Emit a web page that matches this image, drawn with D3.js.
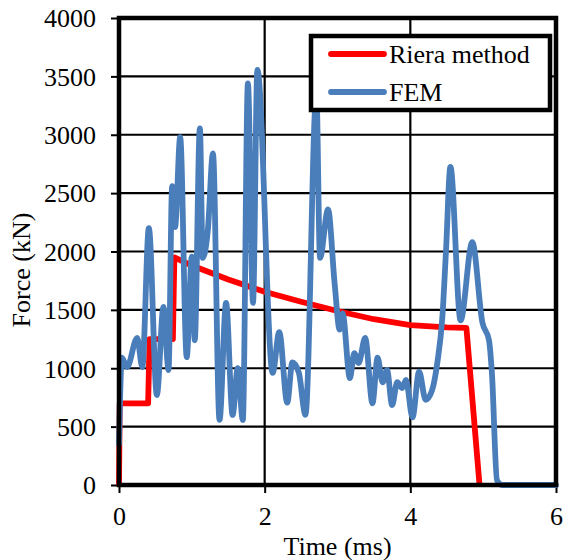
<!DOCTYPE html>
<html>
<head>
<meta charset="utf-8">
<script src="https://cdnjs.cloudflare.com/ajax/libs/d3/7.8.5/d3.min.js"></script>
<style>
  body { margin: 0; background: #fff; }
  text { font-family: "Liberation Serif", "Times New Roman", serif; fill: #000; }
</style>
</head>
<body>
<div id="main"></div>
<script>
// time (ms) / force (kN)
const rieraTime  = [0, 0.01, 0.40, 0.42, 0.74, 0.76, 1.0, 1.5, 2.0, 2.5, 3.0, 3.5, 4.0, 4.5, 4.77, 4.95];
const rieraForce = [0, 700, 700, 1250, 1250, 1950, 1880, 1760, 1655, 1570, 1490, 1420, 1370, 1350, 1345, 0];

const femTime  = [0, 0.04, 0.11, 0.25, 0.32, 0.41, 0.52, 0.61, 0.68, 0.73, 0.77, 0.84, 0.93, 1.0, 1.04, 1.11,
                  1.15, 1.22, 1.29, 1.38, 1.47, 1.56, 1.63, 1.70, 1.77, 1.84, 1.90, 2.11, 2.20, 2.31, 2.38,
                  2.47, 2.56, 2.71, 2.76, 2.87, 2.96, 3.03, 3.07, 3.17, 3.23, 3.29, 3.38, 3.48, 3.55, 3.62,
                  3.68, 3.75, 3.82, 3.89, 3.94, 4.03, 4.12, 4.21, 4.30, 4.37, 4.44, 4.49, 4.55, 4.69, 4.85,
                  4.99, 5.08, 5.12, 5.19, 5.26, 6.0];
const femForce = [350, 1090, 1010, 1260, 1010, 2200, 770, 1525, 985, 2560, 2210, 2980, 1095, 1955, 1240, 3055,
                  1945, 2185, 2840, 557, 1560, 600, 1000, 557, 3440, 1560, 3555, 960, 1310, 705, 1050,
                  960, 600, 3350, 1945, 2360, 1730, 1330, 1470, 915, 1130, 1045, 1260, 700, 1090, 880,
                  985, 685, 880, 830, 900, 580, 970, 730, 815, 1045, 1440, 2010, 2725, 1410, 2080,
                  1390, 1240, 960, 40, 0, 0];

const xTicks = [0, 2, 4, 6];
const yTicks = [0, 500, 1000, 1500, 2000, 2500, 3000, 3500, 4000];
const seriesNames = ["Riera method", "FEM"];
const seriesColors = ["#ff0000", "#4a7ebb"];

const ctx = { W: 564, H: 560, left: 119, right: 556, top: 18, bottom: 485 };
const FONT = '"Liberation Serif", "Times New Roman", serif';

function createViz() {
  const svg = d3.select("#main").append("svg")
    .attr("width", ctx.W).attr("height", ctx.H);

  const x = d3.scaleLinear().domain([0, 6]).range([ctx.left, ctx.right]);
  const y = d3.scaleLinear().domain([0, 4000]).range([ctx.bottom, ctx.top]);

  // grid
  svg.append("g").selectAll("line").data(yTicks.slice(1, -1)).enter().append("line")
    .attr("x1", ctx.left).attr("x2", ctx.right)
    .attr("y1", d => y(d)).attr("y2", d => y(d))
    .attr("stroke", "#000").attr("stroke-width", 2.2);
  svg.append("g").selectAll("line").data(xTicks.slice(1, -1)).enter().append("line")
    .attr("x1", d => x(d)).attr("x2", d => x(d))
    .attr("y1", ctx.top).attr("y2", ctx.bottom)
    .attr("stroke", "#000").attr("stroke-width", 2.2);

  // axes
  const yAxis = svg.append("g").attr("transform", `translate(${ctx.left},0)`)
    .call(d3.axisLeft(y).tickValues(yTicks).tickSize(8).tickPadding(15).tickFormat(d3.format("d")));
  const xAxis = svg.append("g").attr("transform", `translate(0,${ctx.bottom})`)
    .call(d3.axisBottom(x).tickValues(xTicks).tickSize(8).tickPadding(14).tickFormat(d3.format("d")));
  [yAxis, xAxis].forEach(a => {
    a.attr("font-family", FONT).attr("font-size", 26);
    a.select(".domain").remove();
    a.selectAll(".tick line").attr("stroke", "#000").attr("stroke-width", 2);
    a.selectAll("text").style("font-family", FONT).style("font-size", "26px").attr("fill", "#000");
  });
  yAxis.selectAll("text").attr("dy", "0.34em");

  // lines
  const line = d3.line().x(d => x(d[0])).y(d => y(d[1]));
  const riera = rieraTime.map((t, i) => [t, rieraForce[i]]);
  const fem = femTime.map((t, i) => [t, femForce[i]]);

  svg.append("path").datum(riera).attr("d", line)
    .attr("fill", "none").attr("stroke", seriesColors[0]).attr("stroke-width", 5.8)
    .attr("stroke-linejoin", "round");
  svg.append("path").datum(fem).attr("d", line.curve(d3.curveMonotoneX))
    .attr("fill", "none").attr("stroke", seriesColors[1]).attr("stroke-width", 5.8)
    .attr("stroke-linejoin", "round").attr("stroke-linecap", "round");

  // plot border
  svg.append("rect")
    .attr("x", ctx.left).attr("y", ctx.top)
    .attr("width", ctx.right - ctx.left).attr("height", ctx.bottom - ctx.top)
    .attr("fill", "none").attr("stroke", "#000").attr("stroke-width", 4.5);

  // legend
  const lg = svg.append("g");
  lg.append("rect").attr("x", 311).attr("y", 36).attr("width", 239).attr("height", 74)
    .attr("fill", "#fff").attr("stroke", "#000").attr("stroke-width", 4.5);
  seriesNames.forEach((name, i) => {
    const yy = 54 + i * 38;
    lg.append("line").attr("x1", 331).attr("x2", 384).attr("y1", yy).attr("y2", yy)
      .attr("stroke", seriesColors[i]).attr("stroke-width", 5.8).attr("stroke-linecap", "round");
    lg.append("text").attr("x", 389).attr("y", yy + 9).style("font-size", "26px").text(name);
  });

  // axis titles
  svg.append("text").attr("x", (ctx.left + ctx.right) / 2).attr("y", 555)
    .attr("text-anchor", "middle").style("font-size", "26px").text("Time (ms)");
  svg.append("text").attr("transform", "translate(30,270) rotate(-90)")
    .attr("text-anchor", "middle").style("font-size", "26px").text("Force (kN)");
}

createViz();
</script>
</body>
</html>
